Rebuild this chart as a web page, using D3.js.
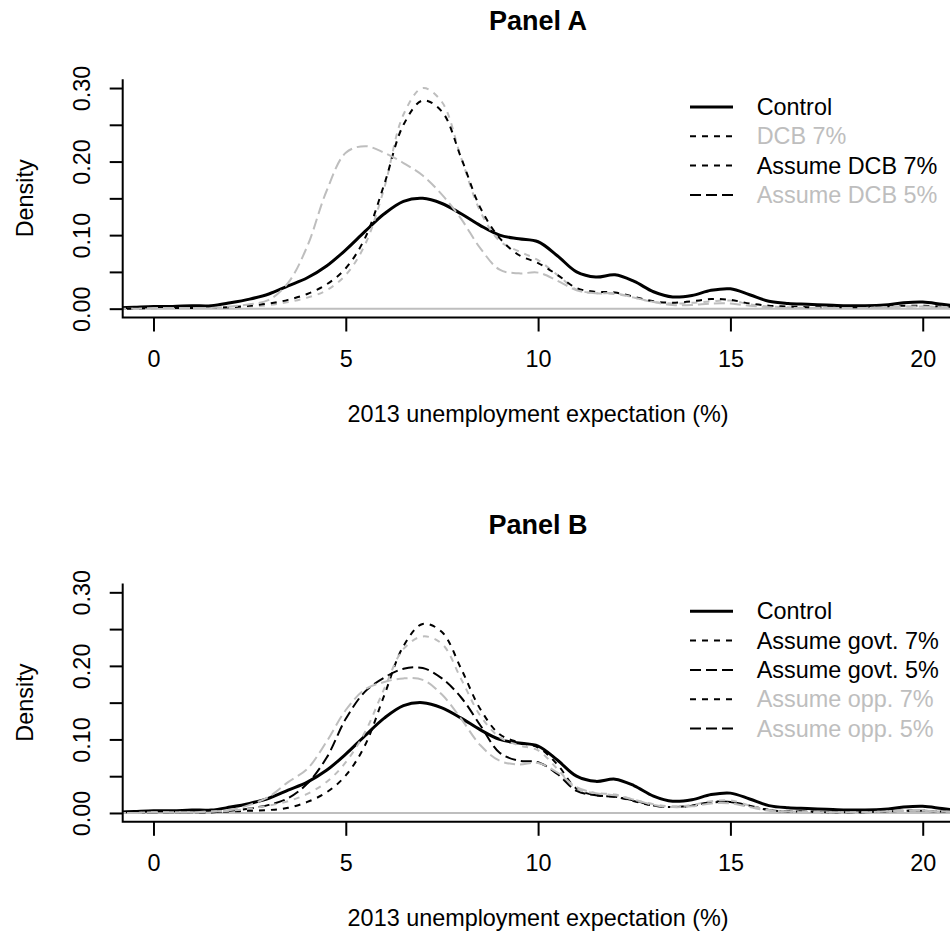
<!DOCTYPE html>
<html><head><meta charset="utf-8">
<script src="https://cdn.jsdelivr.net/npm/d3@7"></script>
<style>
body{margin:0;background:#fff}
text{font-family:"Liberation Sans", Arial, Helvetica, sans-serif;}
</style>
</head><body>
<svg id="chart" width="950" height="942"></svg>
<script>
// ---- data ----
const xs = [-1,-0.5,0,0.5,1,1.5,2,2.5,3,3.5,4,4.5,5,5.5,6,6.5,7,7.5,8,8.5,9,9.5,10,10.5,11,11.5,12,12.5,13,13.5,14,14.5,15,15.5,16,16.5,17,17.5,18,18.5,19,19.5,20,20.5,21];
const control    = [0.001,0.002,0.003,0.003,0.004,0.004,0.008,0.013,0.020,0.031,0.042,0.058,0.080,0.105,0.129,0.146,0.150,0.143,0.129,0.113,0.100,0.095,0.091,0.072,0.050,0.043,0.046,0.037,0.023,0.016,0.018,0.025,0.027,0.019,0.010,0.007,0.006,0.005,0.004,0.004,0.005,0.008,0.009,0.006,0.003];
const dcb7       = [0.000,0.000,0.000,0.001,0.001,0.001,0.002,0.003,0.005,0.009,0.015,0.025,0.046,0.087,0.164,0.264,0.300,0.281,0.205,0.132,0.092,0.078,0.066,0.046,0.026,0.021,0.020,0.015,0.009,0.007,0.008,0.010,0.011,0.006,0.003,0.002,0.001,0.001,0.001,0.001,0.002,0.003,0.003,0.002,0.001];
const assumeDcb7 = [0.000,0.000,0.001,0.001,0.001,0.001,0.002,0.004,0.007,0.012,0.020,0.033,0.055,0.096,0.169,0.250,0.283,0.268,0.205,0.137,0.096,0.073,0.062,0.046,0.028,0.023,0.022,0.016,0.010,0.008,0.010,0.013,0.012,0.007,0.004,0.003,0.002,0.002,0.002,0.002,0.003,0.004,0.004,0.003,0.002];
const assumeDcb5 = [0.000,0.000,0.001,0.001,0.001,0.001,0.003,0.006,0.012,0.035,0.085,0.160,0.212,0.221,0.212,0.198,0.181,0.155,0.122,0.082,0.053,0.048,0.049,0.038,0.025,0.021,0.021,0.015,0.009,0.005,0.005,0.007,0.007,0.004,0.002,0.001,0.001,0.001,0.001,0.001,0.002,0.003,0.003,0.002,0.001];
const govt7      = [0.000,0.000,0.001,0.001,0.001,0.001,0.002,0.003,0.004,0.007,0.015,0.028,0.051,0.092,0.160,0.227,0.257,0.246,0.196,0.141,0.107,0.096,0.089,0.066,0.033,0.024,0.022,0.016,0.010,0.008,0.010,0.014,0.015,0.009,0.004,0.002,0.002,0.001,0.001,0.001,0.002,0.003,0.003,0.002,0.001];
const govt5      = [0.000,0.000,0.001,0.001,0.001,0.001,0.003,0.006,0.011,0.020,0.040,0.075,0.128,0.165,0.184,0.196,0.197,0.183,0.157,0.119,0.082,0.071,0.069,0.053,0.030,0.024,0.022,0.017,0.010,0.008,0.010,0.015,0.015,0.010,0.004,0.002,0.002,0.001,0.001,0.001,0.002,0.003,0.003,0.002,0.001];
const opp7       = [0.000,0.000,0.001,0.001,0.001,0.002,0.003,0.006,0.010,0.016,0.026,0.042,0.069,0.110,0.169,0.223,0.240,0.230,0.182,0.132,0.103,0.092,0.085,0.060,0.033,0.027,0.025,0.018,0.012,0.009,0.011,0.016,0.017,0.010,0.004,0.002,0.002,0.001,0.001,0.001,0.002,0.003,0.003,0.002,0.001];
const opp5       = [0.000,0.000,0.001,0.001,0.001,0.002,0.004,0.011,0.022,0.042,0.060,0.097,0.140,0.168,0.178,0.183,0.181,0.161,0.128,0.092,0.071,0.066,0.068,0.055,0.035,0.027,0.024,0.018,0.011,0.008,0.009,0.013,0.013,0.008,0.003,0.002,0.001,0.001,0.001,0.001,0.002,0.003,0.003,0.002,0.001];

const xTickValues = [0,5,10,15,20];
const yTickValues = [0,0.05,0.10,0.15,0.20,0.25,0.30];
const yTickLabels = ["0.00","","0.10","","0.20","","0.30"];
const panelTitles = ["Panel A","Panel B"];
const legendA = ["Control","DCB 7%","Assume DCB 7%","Assume DCB 5%"];
const legendB = ["Control","Assume govt. 7%","Assume govt. 5%","Assume opp. 7%","Assume opp. 5%"];
const xLabel = "2013 unemployment expectation (%)";
const yLabel = "Density";

// ---- styles ----
const GREY = "#bebebe";
const ST = {
  solid:  {w:3, dash:null},
  short:  {w:2, dash:"6,6"},
  long:   {w:2, dash:"11,5"}
};
const panels = [
  {title: panelTitles[0], legend: legendA, series: [
    {v: control,    st:"solid", col:"#000", tcol:"#000"},
    {v: dcb7,       st:"short", col:GREY,   tcol:GREY},
    {v: assumeDcb7, st:"short", col:"#000", tcol:"#000"},
    {v: assumeDcb5, st:"long",  col:GREY,   tcol:GREY}
  ]},
  {title: panelTitles[1], legend: legendB, series: [
    {v: control, st:"solid", col:"#000", tcol:"#000"},
    {v: govt7,   st:"short", col:"#000", tcol:"#000"},
    {v: govt5,   st:"long",  col:"#000", tcol:"#000"},
    {v: opp7,    st:"short", col:GREY,   tcol:GREY},
    {v: opp5,    st:"long",  col:GREY,   tcol:GREY}
  ]}
];

const svg = d3.select("#chart");
const FS = 23.4;
const L = 122.7, R = 953.5, TOP = 79.2, BOT = 317.5, OFF = 504.3;

panels.forEach((p, i) => {
  const g = svg.append("g").attr("transform", `translate(0,${i*OFF})`);
  const x = d3.scaleLinear().domain([-0.8, 20.8]).range([L, R]);
  const y = d3.scaleLinear().domain([-0.012, 0.312]).range([BOT, TOP]);

  const cid = "clip" + i;
  g.append("clipPath").attr("id", cid).append("rect")
    .attr("x", L).attr("y", TOP).attr("width", R - L).attr("height", BOT - TOP);
  const plot = g.append("g").attr("clip-path", `url(#${cid})`);

  // zero reference line
  plot.append("line").attr("x1", x(-0.8)).attr("x2", x(20.8))
    .attr("y1", y(0)).attr("y2", y(0))
    .attr("stroke", GREY).attr("stroke-width", 2);

  const line = d3.line().x((d, k) => x(xs[k])).y(d => y(d))
    .curve(d3.curveCatmullRom.alpha(0.5));
  p.series.forEach(s => {
    const st = ST[s.st];
    plot.append("path").attr("d", line(s.v))
      .attr("fill", "none").attr("stroke", s.col)
      .attr("stroke-width", st.w)
      .attr("stroke-dasharray", st.dash)
      .attr("stroke-linejoin", "round")
      .attr("stroke-linecap", st.dash ? "butt" : "round");
  });

  // L-shaped box
  g.append("path").attr("d", `M${L},${TOP}V${BOT}H${R}`)
    .attr("fill", "none").attr("stroke", "#000").attr("stroke-width", 2);

  // x axis
  const xa = g.append("g").attr("transform", `translate(0,${BOT})`)
    .call(d3.axisBottom(x).tickValues(xTickValues).tickSize(14).tickSizeOuter(0).tickFormat(d3.format("d")));
  xa.select(".domain").remove();
  xa.selectAll(".tick line").attr("stroke", "#000").attr("stroke-width", 2);
  xa.selectAll(".tick text").attr("y", 49.5).attr("dy", 0)
    .attr("font-size", FS).attr("fill", "#000").style("font-family", '"Liberation Sans", Arial, sans-serif');

  // y axis
  const ya = g.append("g").attr("transform", `translate(${L},0)`)
    .call(d3.axisLeft(y).tickValues(yTickValues).tickSize(13).tickSizeOuter(0)
      .tickFormat((d, k) => yTickLabels[k]));
  ya.select(".domain").remove();
  ya.selectAll(".tick line").attr("stroke", "#000").attr("stroke-width", 2);
  ya.selectAll(".tick text").attr("transform", "rotate(-90)")
    .attr("x", 0).attr("y", -33).attr("dy", 0).attr("text-anchor", "middle")
    .attr("font-size", FS).attr("fill", "#000").style("font-family", '"Liberation Sans", Arial, sans-serif');

  // titles
  const cx = (L + R) / 2;
  g.append("text").attr("x", cx).attr("y", 30).attr("text-anchor", "middle")
    .attr("font-size", 27).attr("font-weight", "bold").text(p.title);
  g.append("text").attr("x", cx).attr("y", 422).attr("text-anchor", "middle")
    .attr("font-size", FS).text(xLabel);
  g.append("text").attr("transform", `translate(33,${(TOP + BOT) / 2}) rotate(-90)`)
    .attr("text-anchor", "middle").attr("font-size", FS).text(yLabel);

  // legend
  const ly0 = 107, lstep = 29.3;
  p.series.forEach((s, k) => {
    const yy = ly0 + k * lstep;
    const st = ST[s.st];
    g.append("line").attr("x1", 690).attr("x2", 733).attr("y1", yy).attr("y2", yy)
      .attr("stroke", "#000").attr("stroke-width", st.w)
      .attr("stroke-dasharray", st.dash).attr("stroke-linecap", "butt");
    g.append("text").attr("x", 756.7).attr("y", yy).attr("dy", "0.35em")
      .attr("font-size", FS).attr("fill", s.tcol).text(p.legend[k]);
  });
});
</script>
</body></html>
